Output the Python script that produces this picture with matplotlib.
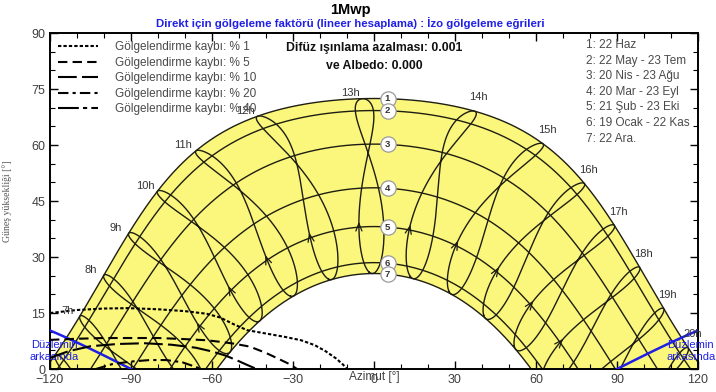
import numpy as np
import matplotlib
matplotlib.use("Agg")
import matplotlib.pyplot as plt
from matplotlib.lines import Line2D
from matplotlib.transforms import blended_transform_factory

plt.rcParams['font.family'] = ['Liberation Sans', 'DejaVu Sans']

# ---- site / system ----
LATITUDE = 41.0
LONGITUDE = 29.0
TIME_ZONE = 3.0
PLANE_TILT = 20.0

# ---- sun-path dates ----
date_labels = ["1: 22 Haz", "2: 22 May - 23 Tem", "3: 20 Nis - 23 Ağu",
               "4: 20 Mar - 23 Eyl", "5: 21 Şub - 23 Eki",
               "6: 19 Ocak - 22 Kas", "7: 22 Ara."]
date_days = [173, 142, 110, 79, 52, 19, 356]
hours = list(range(5, 22))
labelled_hours = list(range(7, 21))
arrow_day = 52
marker_azimuth = 5.0

# ---- iso-shading curves (azimuth, sun height) ----
loss_labels = ["Gölgelendirme kaybı: % 1", "Gölgelendirme kaybı: % 5",
               "Gölgelendirme kaybı: % 10", "Gölgelendirme kaybı: % 20",
               "Gölgelendirme kaybı: % 40"]
loss1_az = [-120, -110, -100, -91, -80, -70, -62, -57, -52, -47, -40, -33, -27, -22, -18, -14, -11.5, -10]
loss1_alt = [15.0, 15.8, 16.2, 16.3, 16.0, 15.5, 14.8, 13.8, 12.0, 10.4, 9.5, 8.6, 7.7, 6.4, 4.8, 2.8, 1.2, 0.0]
loss5_az = [-120, -110, -100, -90, -80, -70, -62, -56, -52, -46, -40, -35, -31, -28.5]
loss5_alt = [7.8, 8.1, 8.3, 8.3, 8.3, 8.0, 7.7, 7.2, 6.8, 6.0, 4.3, 2.6, 1.2, 0.0]
loss10_az = [-120, -113, -105, -95, -85, -75, -66, -60, -55, -51, -47, -43.5]
loss10_alt = [3.0, 4.8, 6.1, 6.7, 6.9, 6.5, 5.7, 4.7, 3.6, 2.4, 1.1, 0.0]
loss20_az = [-103, -97, -90, -83, -77, -71, -67, -64]
loss20_alt = [0.0, 1.3, 2.0, 2.4, 2.4, 1.8, 0.8, 0.0]
loss40_az = []
loss40_alt = []

loss_curves = [(loss1_az, loss1_alt), (loss5_az, loss5_alt), (loss10_az, loss10_alt),
               (loss20_az, loss20_alt), (loss40_az, loss40_alt)]
loss_styles = [(0, (1.6, 1.0)), (0, (4.5, 2.5)), (0, (9, 2.5)),
               (0, (5, 2, 1.5, 2)), (0, (10, 2, 2, 2))]

x_ticks = [-120, -90, -60, -30, 0, 30, 60, 90, 120]
y_ticks = [0, 15, 30, 45, 60, 75, 90]

YELLOW = "#fbf67c"
GRID = "#1e1e12"
BLUE = "#1f1fe6"


# ---- solar geometry ----
def declination(day):
    g = 2 * np.pi * (np.asarray(day) - 1) / 365.0
    return np.degrees(0.006918 - 0.399912 * np.cos(g) + 0.070257 * np.sin(g)
                      - 0.006758 * np.cos(2 * g) + 0.000907 * np.sin(2 * g)
                      - 0.002697 * np.cos(3 * g) + 0.00148 * np.sin(3 * g))


def equation_of_time(day):
    g = 2 * np.pi * (np.asarray(day) - 1) / 365.0
    return 229.18 * (0.000075 + 0.001868 * np.cos(g) - 0.032077 * np.sin(g)
                     - 0.014615 * np.cos(2 * g) - 0.040849 * np.sin(2 * g))


def sun_position(dec, ha):
    phi = np.radians(LATITUDE)
    d = np.radians(dec)
    h = np.radians(ha)
    alt = np.degrees(np.arcsin(np.sin(phi) * np.sin(d) + np.cos(phi) * np.cos(d) * np.cos(h)))
    az = np.degrees(np.arctan2(np.sin(h) * np.cos(d),
                               np.cos(h) * np.cos(d) * np.sin(phi) - np.sin(d) * np.cos(phi)))
    return az, alt


def hour_angle(clock, day):
    solar = clock - TIME_ZONE + LONGITUDE / 15.0 + equation_of_time(day) / 60.0
    return 15.0 * (solar - 12.0)


def day_path(day, n=400):
    dec = declination(day)
    h0 = np.degrees(np.arccos(-np.tan(np.radians(LATITUDE)) * np.tan(np.radians(dec))))
    ha = np.linspace(-h0, h0, n)
    return sun_position(dec, ha)


fig = plt.figure(figsize=(7.16, 3.92), dpi=100)
ax = fig.add_axes([50 / 716, 23 / 392, 648 / 716, 336 / 392])

# yellow band between the solstice paths
az_s, alt_s = day_path(date_days[0])
az_w, alt_w = day_path(date_days[-1])
ax.fill(np.concatenate([az_s, az_w[::-1]]), np.concatenate([alt_s, alt_w[::-1]]),
        color=YELLOW, zorder=1, lw=0)

# daily sun paths
for day in date_days:
    a, h = day_path(day)
    ax.plot(a, h, color=GRID, lw=1.0, zorder=2)

# hour analemmas
days = np.arange(1, 367)
days[-1] = 1
for hr in hours:
    ha = hour_angle(hr, days)
    a, h = sun_position(declination(days), ha)
    a = np.where(h >= 0, a, np.nan)
    h = np.where(h >= 0, h, np.nan)
    ax.plot(a, h, color=GRID, lw=1.0, zorder=2)
    # direction arrow
    d0, d1 = arrow_day, arrow_day + 4
    a0, h0 = sun_position(declination(d0), hour_angle(hr, d0))
    a1, h1 = sun_position(declination(d1), hour_angle(hr, d1))
    if h0 > 1 and -120 < a0 < 120:
        ax.annotate("", xy=(a1, h1), xytext=(a0, h0),
                    arrowprops=dict(arrowstyle="->,head_length=0.55,head_width=0.22",
                                    color=GRID, lw=0.9, shrinkA=0, shrinkB=0),
                    zorder=3)

# hour labels at the summer solstice end of each analemma
for hr in labelled_hours:
    a, h = sun_position(declination(date_days[0]), hour_angle(hr, date_days[0]))
    if h <= 0:
        continue
    off = (-9, 4) if a < 0 else (3, 10)
    ax.annotate(f"{hr}h", xy=(a, h), xytext=off, textcoords="offset points",
                ha="center", va="center", fontsize=8, color="#333333", zorder=6)

# numbered date markers
for i, day in enumerate(date_days):
    a, h = day_path(day, 2000)
    hm = np.interp(marker_azimuth, a, h)
    ax.plot([marker_azimuth], [hm], marker="o", ms=11, mfc="white", mec="#9a9a9a",
            mew=0.9, zorder=7)
    ax.text(marker_azimuth, hm, str(i + 1), ha="center", va="center", fontsize=6.8,
            fontweight="bold", color="#333333", zorder=8)

# "behind the plane" limit
tt = np.tan(np.radians(PLANE_TILT))
for side in (-1, 1):
    az_b = np.linspace(90, 120, 30) * side
    alt_b = np.degrees(np.arctan(-tt * np.cos(np.radians(az_b))))
    ax.plot(az_b, alt_b, color=BLUE, lw=1.8, zorder=5)
ax.text(-118.5, 6.5, "Düzlemin", color=BLUE, fontsize=8, ha="center", va="center",
        zorder=4, clip_on=False)
ax.text(-118.5, 3.3, "arkasında", color=BLUE, fontsize=8, ha="center", va="center",
        zorder=4, clip_on=False)
ax.text(108.5, 6.5, "Düzlemin", color=BLUE, fontsize=8, ha="left", va="center",
        zorder=4, clip_on=False)
ax.text(108.5, 3.3, "arkasında", color=BLUE, fontsize=8, ha="left", va="center",
        zorder=4, clip_on=False)

# iso-shading curves
handles = []
for (xs, ys), ls, lab in zip(loss_curves, loss_styles, loss_labels):
    ax.plot(xs, ys, color="black", lw=1.5, ls=ls, zorder=5)
    handles.append(Line2D([], [], color="black", lw=1.5, ls=ls, label=lab))

leg = ax.legend(handles=handles, loc="upper left", bbox_to_anchor=(0.0, 1.0),
                frameon=False, fontsize=8.5, handlelength=3.4, handletextpad=1.4,
                labelspacing=0.3, borderaxespad=0.3, labelcolor="#4a4a4a")
leg.set_zorder(9)

# diffuse / albedo note
ax.text(0, 86.0, "Difüz ışınlama azalması: 0.001", ha="center", va="center",
        fontsize=8.8, fontweight="bold", color="#111111", zorder=9)
ax.text(0, 81.2, "ve Albedo: 0.000", ha="center", va="center",
        fontsize=8.8, fontweight="bold", color="#111111", zorder=9)

# date list
trans = ax.transAxes
for i, lab in enumerate(date_labels):
    ax.text(536 / 648, 1 - (12 + i * 15.6) / 336, lab, transform=trans, ha="left",
            va="center", fontsize=8.5, color="#4a4a4a", zorder=9)

# axes styling
ax.set_xlim(-120, 120)
ax.set_ylim(0, 90)
ax.set_xticks(x_ticks)
ax.set_yticks(y_ticks)
ax.set_xticks(np.arange(-120, 121, 10), minor=True)
ax.set_yticks(np.arange(0, 91, 5), minor=True)
ax.tick_params(which="both", direction="in", top=True, right=True, colors="black",
               labelcolor="#404040", labelsize=9)
ax.tick_params(which="major", length=6, width=1.0)
ax.tick_params(which="minor", length=3.5, width=0.8)
for sp in ax.spines.values():
    sp.set_linewidth(1.4)
ax.set_xlabel("Azimut [°]", fontsize=8.5, color="#404040", labelpad=-11)
ax.set_ylabel("Güneş yüksekliği [°]", fontsize=7, color="#555555",
              family=["Liberation Serif", "DejaVu Serif"], labelpad=14)

fig.text(350 / 716, 1 - 10 / 392, "1Mwp", ha="center", va="center", fontsize=10.5,
         fontweight="bold", color="black")
fig.text(350 / 716, 1 - 23 / 392,
         "Direkt için gölgeleme faktörü (lineer hesaplama) : İzo gölgeleme eğrileri",
         ha="center", va="center", fontsize=8.2, fontweight="bold", color=BLUE)

fig.savefig("out.png", dpi=100)
